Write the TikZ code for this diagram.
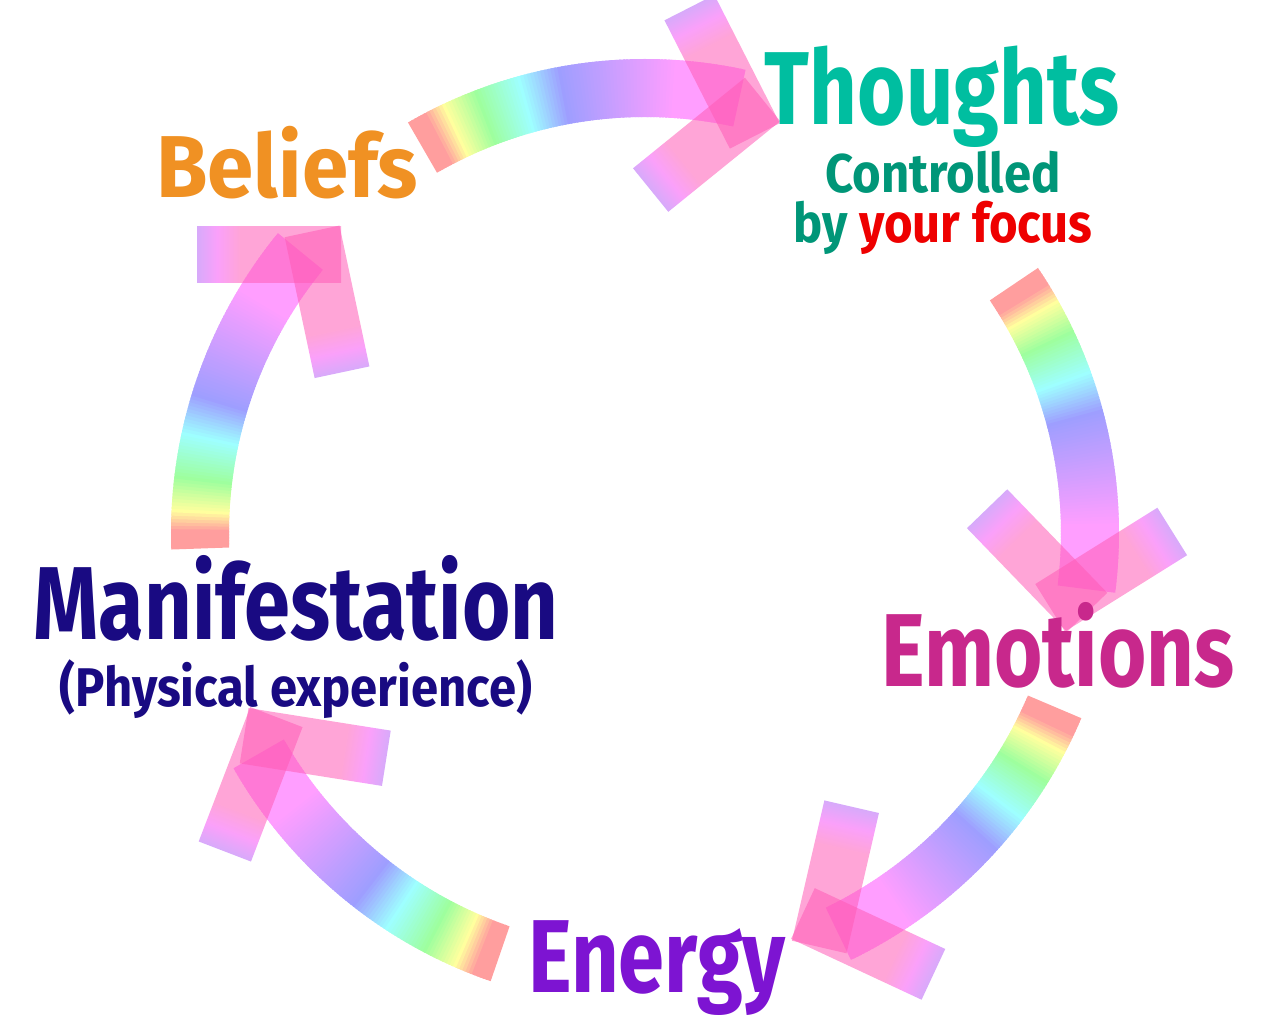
\documentclass[tikz,border=0pt]{standalone}
\usepackage{fontspec}
\setmainfont{Fira Sans}[FakeStretch=0.8]
\newfontfamily\midfont{Fira Sans}[FakeStretch=0.9]
\newfontfamily\widefont{Fira Sans}[FakeStretch=0.95]
\usepackage{tikz}
\usetikzlibrary{positioning}

\definecolor{thoughtcol}{RGB}{0,190,160}
\definecolor{ctrlcol}{RGB}{0,150,120}
\definecolor{focuscol}{RGB}{238,0,0}
\definecolor{beliefcol}{RGB}{240,145,35}
\definecolor{manicol}{RGB}{25,10,130}
\definecolor{emocol}{RGB}{200,40,140}
\definecolor{energycol}{RGB}{125,20,210}
\definecolor{barpink}{RGB}{255,91,182}
\definecolor{barmag}{RGB}{246,82,246}
\definecolor{barlilac}{RGB}{182,100,246}
\pgfdeclarehorizontalshading{barfade}{100bp}{color(0bp)=(barpink); color(25bp)=(barpink); color(60bp)=(barpink); color(68bp)=(barmag); color(75bp)=(barlilac); color(100bp)=(barlilac)}

\begin{document}
\begin{tikzpicture}[x=0.2mm, y=0.2mm,
  lbl/.style={inner sep=0pt, anchor=base},
  bigtxt/.style={font=\bfseries\fontsize{59pt}{60pt}\selectfont},
  smalltxt/.style={font=\midfont\bfseries\fontsize{31pt}{32pt}\selectfont},
  headbar/.style={shading=barfade, fill opacity=0.55}]
\useasboundingbox (-645,-485) rectangle (635,533);

% rainbow bands, tail angle / head angle
\foreach \ta/\tb in {120/78, 34/-7, -23/-64, -109/-150, 182/141}{
  \foreach \i in {0,...,99}{
    \pgfmathsetmacro\fr{\i/100}
    \pgfmathsetmacro\hh{\fr<0.05 ? 0 : (\fr<0.11 ? 1000*(\fr-0.05) : (\fr<0.21 ? 60+600*(\fr-0.11) : (\fr<0.34 ? 120+461.5*(\fr-0.21) : (\fr<0.46 ? 180+500*(\fr-0.34) : min(300,240+176.5*(\fr-0.46))))))}
    \pgfmathsetmacro\a{\ta+(\tb-\ta)*\i/100}
    \pgfmathsetmacro\b{\ta+(\tb-\ta)*(\i+1.6)/100}
    \definecolor{segc}{Hsb}{\hh,0.38,1}
    \fill[segc] (\a:416) arc[start angle=\a, end angle=\b, radius=416]
      -- (\b:474) arc[start angle=\b, end angle=\a, radius=474] -- cycle;
  }
}

% arrow heads
\foreach \tb in {78,-7,-64,-150,141}{
  \pgfmathsetmacro\qa{\tb-1.3}
  \foreach \s in {-51,51}{
    \pgfmathsetmacro\ang{\tb+90+\s}
    \begin{scope}[transform canvas={shift={(\qa:430)}, rotate=\ang}]
      \shade[headbar] (-24,-28) rectangle (120,28);
    \end{scope}
  }
}

\node[lbl, bigtxt, thoughtcol] (thoughts) at (297,408) {Thoughts};
\node[lbl, smalltxt, ctrlcol] (ctrl) at (298,340) {Controlled};
\node[lbl, smalltxt, ctrlcol] (focus) at (298,290) {by \textcolor{focuscol}{your focus}};
\node[lbl, beliefcol, font=\widefont\bfseries\fontsize{50pt}{52pt}\selectfont] (beliefs) at (-358,335) {Beliefs};
\node[lbl, bigtxt, manicol] (mani) at (-349,-107) {Manifestation};
\node[lbl, smalltxt, manicol] (phys) at (-349,-174) {(Physical experience)};
\node[lbl, bigtxt, emocol] (emotions) at (413,-154) {Emotions};
\node[lbl, bigtxt, energycol] (energy) at (12,-460) {Energy};

\end{tikzpicture}
\end{document}
